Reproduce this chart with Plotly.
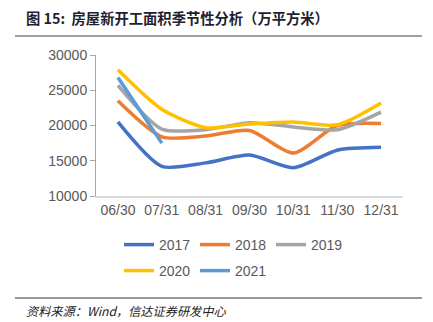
import plotly.graph_objects as go

categories = ["06/30", "07/31", "08/31", "09/30", "10/31", "11/30", "12/31"]
s2017 = [20500, 14200, 14700, 15800, 14000, 16500, 16900]
s2018 = [23500, 18400, 18500, 19300, 16100, 20000, 20300]
s2019 = [25700, 19500, 19400, 20400, 19800, 19400, 21900]
s2020 = [27900, 22300, 19700, 20200, 20500, 20100, 23200]
s2021 = [26800, 17500]
yticks = [10000, 15000, 20000, 25000, 30000]
yticklabels = ["10000", "15000", "20000", "25000", "30000"]

series = [
    ("2017", s2017, "#4472C4", "legend"),
    ("2018", s2018, "#ED7D31", "legend"),
    ("2019", s2019, "#A5A5A5", "legend"),
    ("2020", s2020, "#FFC000", "legend2"),
    ("2021", s2021, "#5B9BD5", "legend2"),
]

fig = go.Figure()
for name, vals, color, lg in series:
    fig.add_trace(go.Scatter(
        x=categories[:len(vals)], y=vals, name=name, mode="lines",
        line=dict(color=color, width=3.5, shape="spline", smoothing=0.7),
        legend=lg,
    ))

W, H = 433, 322
L, R, T, B = 96, 30, 55, 126
pw, ph = W - L - R, H - T - B

def px_x(x):
    return (x - L) / pw

def px_y(y):
    return (H - B - y) / ph

tickfont = dict(family="Liberation Sans, Arial, sans-serif", size=14, color="#595959")
legfont = dict(family="Liberation Sans, Arial, sans-serif", size=14, color="#595959")

fig.update_layout(
    width=W, height=H,
    margin=dict(l=L, r=R, t=T, b=B),
    paper_bgcolor="white", plot_bgcolor="white",
    xaxis=dict(type="category", categoryorder="array", categoryarray=categories,
               range=[-0.5, 6.5], showgrid=False, showline=True, linecolor="#D9D9D9",
               linewidth=1.5, ticks="", tickfont=tickfont, zeroline=False, fixedrange=True),
    yaxis=dict(range=[10000, 30000], tickvals=yticks, ticktext=yticklabels,
               showgrid=False, showline=True,
               linecolor="#A6A6A6", linewidth=1, ticks="outside", ticklen=5,
               tickcolor="#A6A6A6", tickfont=tickfont, zeroline=False, fixedrange=True),
    legend=dict(orientation="h", xref="container", yref="container",
                x=119 / W, y=1 - 245 / H, xanchor="left", yanchor="middle",
                font=legfont, entrywidth=31, entrywidthmode="pixels",
                itemwidth=30, tracegroupgap=0, bgcolor="rgba(0,0,0,0)"),
    legend2=dict(orientation="h", xref="container", yref="container",
                 x=119 / W, y=1 - 271 / H, xanchor="left", yanchor="middle",
                 font=legfont, entrywidth=31, entrywidthmode="pixels",
                 itemwidth=30, tracegroupgap=0, bgcolor="rgba(0,0,0,0)"),
    showlegend=True,
)

cjk = "Noto Sans CJK SC, sans-serif"
fig.add_annotation(
    text="<b>图 15:  房屋新开工面积季节性分析（万平方米）</b>",
    xref="paper", yref="paper", x=px_x(24), y=px_y(17),
    xanchor="left", yanchor="middle", showarrow=False,
    font=dict(family=cjk, size=14.3, color="#1F1F2F"),
)
fig.add_annotation(
    text="<i>资料来源：Wind，信达证券研发中心</i>",
    xref="paper", yref="paper", x=px_x(24), y=px_y(311),
    xanchor="left", yanchor="middle", showarrow=False,
    font=dict(family=cjk, size=12.2, color="#222222"),
)
fig.add_shape(type="line", xref="paper", yref="paper",
              x0=px_x(15), x1=px_x(422), y0=px_y(36), y1=px_y(36),
              line=dict(color="#808080", width=1.5))
fig.add_shape(type="line", xref="paper", yref="paper",
              x0=px_x(15), x1=px_x(422), y0=px_y(298), y1=px_y(298),
              line=dict(color="#333333", width=1))

fig.write_html("out.html")
